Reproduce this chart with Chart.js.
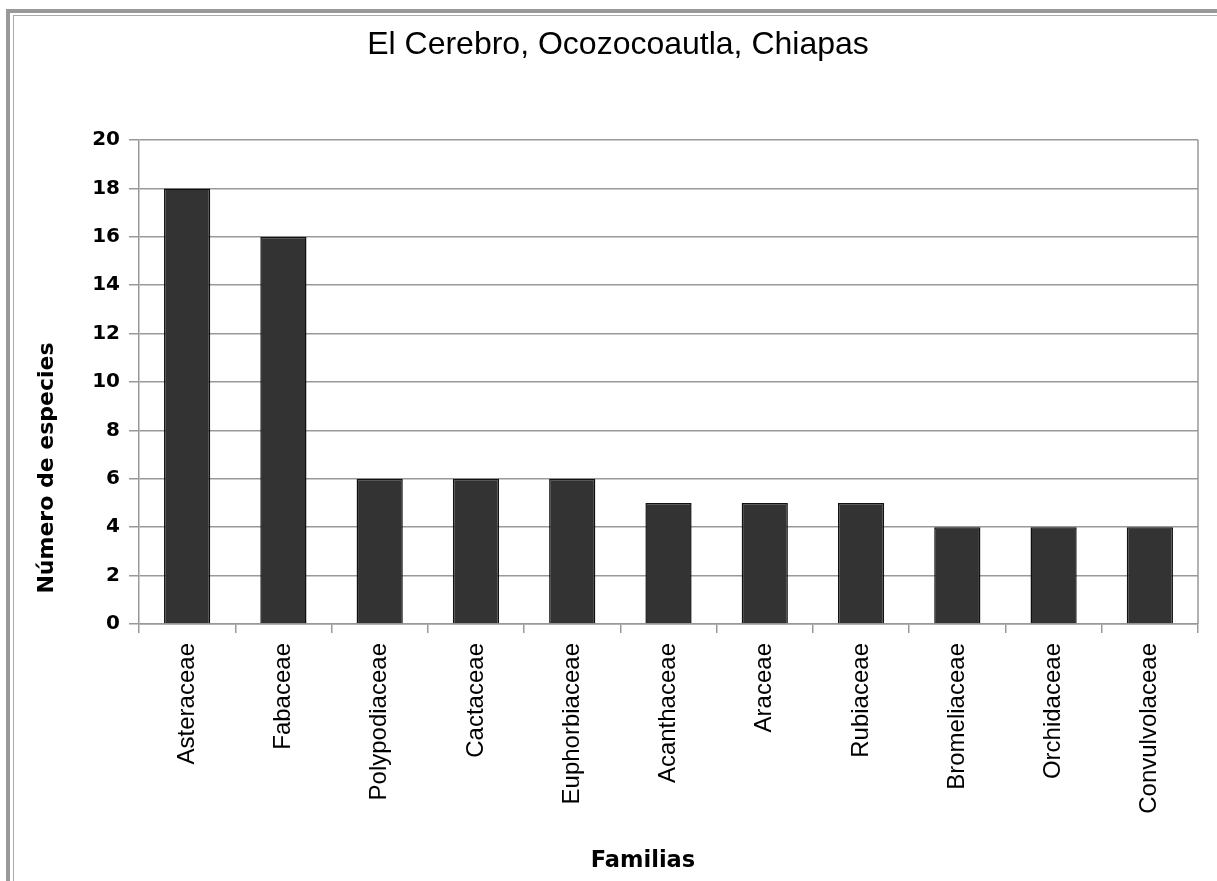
<!DOCTYPE html>
<html>
<head>
<meta charset="utf-8">
<script src="https://cdn.jsdelivr.net/npm/chart.js@4"></script>
<style>
  html, body { margin: 0; padding: 0; background: #fff; overflow: hidden; }
  #frame { position: absolute; left: 6px; top: 9px; width: 1211px; height: 870px;
           border-left: 4px solid #999; border-top: 4px solid #999; border-bottom: 1px solid #ddd; }
  #frame-in { position: absolute; left: 3px; top: 2px; right: 0; bottom: 0;
              border-left: 1px solid #aaa; border-top: 1px solid #aaa; }
  #wrap { position: absolute; left: 0; top: 0; width: 1217px; height: 881px; }
</style>
</head>
<body>
<div id="frame"><div id="frame-in"></div></div>
<div id="wrap"><canvas id="chart"></canvas></div>
<script>
// Data
const familias = ['Asteraceae', 'Fabaceae', 'Polypodiaceae', 'Cactaceae', 'Euphorbiaceae',
    'Acanthaceae', 'Araceae', 'Rubiaceae', 'Bromeliaceae', 'Orchidaceae', 'Convulvolaceae'];
const especies = [18, 16, 6, 6, 6, 5, 5, 5, 4, 4, 4];
const yTicks = [0, 2, 4, 6, 8, 10, 12, 14, 16, 18, 20];

const chartTitle = 'El Cerebro, Ocozocoautla, Chiapas';
const yTitle = 'Número de especies';
const xTitle = 'Familias';

const gridColor = '#999';

// Draws the titles and the right edge of the plot area
const textPlugin = {
    id: 'texts',
    afterDraw: (chart) => {
        const ctx = chart.ctx;
        const area = chart.chartArea;
        ctx.save();
        ctx.strokeStyle = gridColor;
        ctx.lineWidth = 1.5;
        ctx.beginPath();
        ctx.moveTo(area.right, area.top);
        ctx.lineTo(area.right, area.bottom);
        ctx.stroke();

        ctx.fillStyle = '#000';
        ctx.textAlign = 'center';
        ctx.textBaseline = 'alphabetic';
        ctx.font = '32px "Liberation Sans", Arial, sans-serif';
        ctx.fillText(chartTitle, 618, 54);

        ctx.font = 'bold 22.5px "DejaVu Sans", sans-serif';
        ctx.fillText(xTitle, 643, 867);

        ctx.translate(53, 468);
        ctx.rotate(-Math.PI / 2);
        ctx.font = 'bold 22px "DejaVu Sans", sans-serif';
        ctx.fillText(yTitle, 0, 0);
        ctx.restore();
    }
};

const ctx = document.getElementById('chart').getContext('2d');
new Chart(ctx, {
    type: 'bar',
    data: {
        labels: familias,
        datasets: [{
            label: 'Número de especies',
            data: especies,
            backgroundColor: '#333333',
            borderColor: '#111111',
            borderWidth: 1.5,
            barPercentage: 0.48,
            categoryPercentage: 1
        }]
    },
    options: {
        responsive: true,
        maintainAspectRatio: false,
        animation: false,
        layout: { padding: { top: 140, right: 19, left: 0, bottom: 0 } },
        plugins: {
            legend: { display: false },
            title: { display: false },
            tooltip: { enabled: false }
        },
        scales: {
            x: {
                offset: true,
                grid: {
                    drawOnChartArea: false,
                    drawTicks: true,
                    tickLength: 9,
                    color: gridColor,
                    lineWidth: 1.5
                },
                border: { display: true, color: gridColor, width: 1.5 },
                ticks: {
                    minRotation: 90,
                    maxRotation: 90,
                    autoSkip: false,
                    padding: 10,
                    color: '#000',
                    font: { family: '"Liberation Sans", Arial, sans-serif', size: 24 }
                },
                afterFit: (scale) => { scale.height = 881 - 624; }
            },
            y: {
                min: 0,
                max: 20,
                afterBuildTicks: (scale) => { scale.ticks = yTicks.map(v => ({ value: v })); },
                grid: {
                    color: gridColor,
                    lineWidth: 1.5,
                    tickLength: 10
                },
                border: { display: true, color: gridColor, width: 1.5 },
                ticks: {
                    padding: 9,
                    color: '#000',
                    font: { family: '"DejaVu Sans", sans-serif', size: 20, weight: 'bold' }
                },
                afterFit: (scale) => { scale.width = 139; }
            }
        }
    },
    plugins: [textPlugin]
});
</script>
</body>
</html>
